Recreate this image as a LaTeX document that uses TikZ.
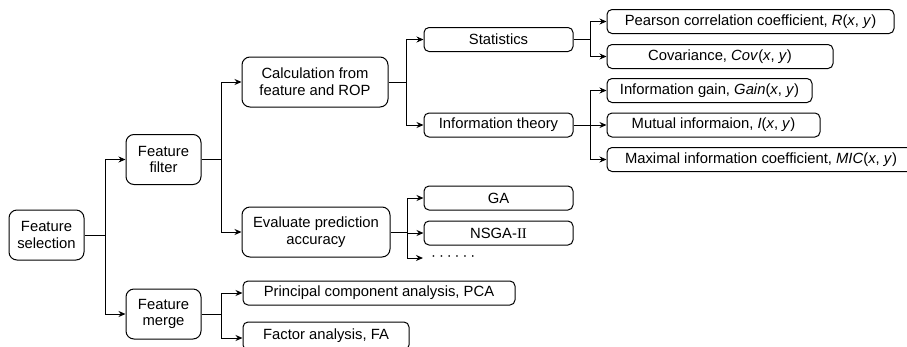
\documentclass[tikz,border=0pt]{standalone}
\usepackage{fontspec}
\setmainfont{Liberation Sans}
\newfontfamily\romanII{Liberation Serif}
\usetikzlibrary{arrows.meta}

\begin{document}
\begin{tikzpicture}[x=1pt,y=-1pt,
  font=\fontsize{14.8}{16.7}\selectfont,
  box/.style={draw,line width=1pt,rounded corners=5pt,align=center,inner sep=0pt,minimum height=24pt},
  tall/.style={box,rounded corners=8pt,minimum height=50pt},
  arr/.style={line width=1pt,-{Stealth[length=7pt,width=6pt]}},
  link/.style={line width=1pt}]
  \useasboundingbox (0,0) rectangle (907,346);
  % first two levels
  \node[tall,minimum width=75pt] (sel) at (46.5,235) {Feature\\selection};
  \node[tall,minimum width=75pt] (filt) at (163.5,159.5) {Feature\\filter};
  \node[tall,minimum width=75pt] (merg) at (163.5,314) {Feature\\merge};
  \node[tall,minimum width=146pt] (calc) at (315,82) {Calculation from\\feature and ROP};
  \node[tall,minimum width=148pt] (eval) at (316,232) {Evaluate prediction\\accuracy};
  % small boxes
  \node[box,minimum width=149pt] (stat) at (498.5,39.5) {Statistics};
  \node[box,minimum width=149pt] (info) at (498.5,125) {Information theory};
  \node[box,minimum width=149pt] (ga) at (498.5,198) {GA};
  \node[box,minimum width=149pt] (nsga) at (498.5,233) {NSGA-{\romanII II}};
  \node[anchor=west,inner sep=0pt] (dots) at (431,258) {\textperiodcentered\kern2.9pt\textperiodcentered\kern2.9pt\textperiodcentered\kern2.9pt\textperiodcentered\kern2.9pt\textperiodcentered\kern2.9pt\textperiodcentered};
  \node[box,minimum width=287pt] (pear) at (750.5,21.5) {Pearson correlation coefficient, \textit{R}(\textit{x}, \textit{y})};
  \node[box,minimum width=226pt] (cov) at (720,56.5) {Covariance, \textit{Cov}(\textit{x}, \textit{y})};
  \node[box,minimum width=205pt] (gain) at (709.5,90.5) {Information gain, \textit{Gain}(\textit{x}, \textit{y})};
  \node[box,minimum width=213pt] (mut) at (713.5,125) {Mutual informaion, \textit{I}(\textit{x}, \textit{y})};
  \node[box,minimum width=308pt] (mic) at (761,159.5) {Maximal information coefficient, \textit{MIC}(\textit{x}, \textit{y})};
  \node[box,minimum width=272pt] (pca) at (379,293) {Principal component analysis, PCA};
  \node[box,minimum width=166pt,minimum height=28pt] (fa) at (326,336) {Factor analysis, FA};
  % branch points
  \coordinate (j0) at ([xshift=21pt]sel.east);
  \coordinate (j1) at ([xshift=20pt]filt.east);
  \coordinate (j2) at ([xshift=20pt]merg.east);
  \coordinate (j3) at ([xshift=18pt]calc.east);
  \coordinate (j4) at ([xshift=17pt]eval.east);
  \coordinate (j5) at ([xshift=17pt]stat.east);
  \coordinate (j6) at ([xshift=17pt]info.east);
  \coordinate (dotsin) at ([xshift=-8pt]dots.west);
  \coordinate (fain) at ([yshift=-2pt]fa.west);
  \foreach \p/\j in {sel/j0,filt/j1,merg/j2,calc/j3,eval/j4,stat/j5,info/j6}
    \draw[link] (\p.east) -- (\j);
  \foreach \j/\c in {j0/filt,j0/merg,j1/calc,j1/eval,j2/pca,j3/stat,j3/info,
                     j4/ga,j4/nsga,j5/pear,j5/cov,j6/gain,j6/mut,j6/mic}
    \draw[arr] (\j) |- (\c.west);
  \draw[arr] (j2) |- (fain);
  \draw[arr] (j4) |- (dotsin);
\end{tikzpicture}
\end{document}
